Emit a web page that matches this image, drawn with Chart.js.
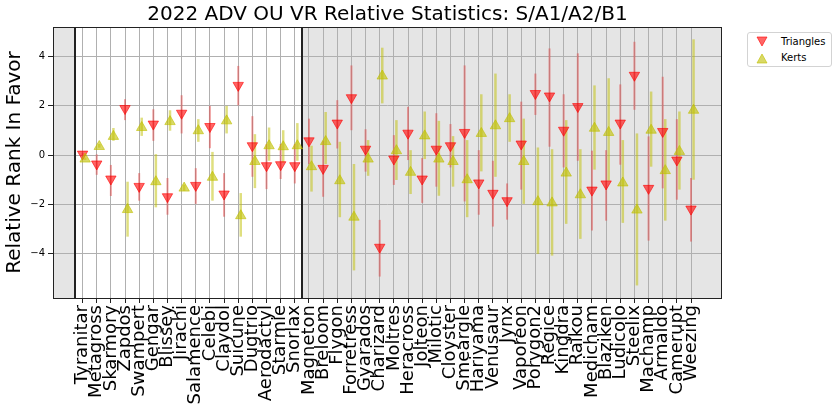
<!DOCTYPE html>
<html>
<head>
<meta charset="utf-8">
<script src="https://cdn.jsdelivr.net/npm/chart.js@4"></script>
<style>
    body { margin: 0; background: #fff; }
    #wrap { position: relative; width: 836px; height: 413px; }
    #legend {
        position: absolute; left: 747px; top: 32px; width: 83px; height: 33px;
        border: 1px solid #d3d3d3; border-radius: 3px; background: #fff;
        font: 10px 'DejaVu Sans', sans-serif; color: #000;
    }
    #legend .item { position: absolute; left: 0; height: 14px; line-height: 14px; }
    #legend svg { position: absolute; left: 7px; top: 0; }
    #legend span { position: absolute; left: 33px; top: 0; white-space: nowrap; }
</style>
</head>
<body>
<div id="wrap">
    <canvas id="chart1" width="836" height="413"></canvas>
    <div id="legend">
        <div class="item" style="top:2px">
            <svg width="14" height="14"><polygon points="2,2 12,2 7,11" fill="rgba(255,0,0,0.6)" stroke="rgba(255,0,0,0.6)"/></svg>
            <span>Triangles</span>
        </div>
        <div class="item" style="top:18px">
            <svg width="14" height="14"><polygon points="2,12 12,12 7,3" fill="rgba(191,191,0,0.6)" stroke="rgba(191,191,0,0.6)"/></svg>
            <span>Kerts</span>
        </div>
    </div>
</div>
<script>
// categories
var names = ['Tyranitar', 'Metagross', 'Skarmory', 'Zapdos', 'Swampert', 'Gengar', 'Blissey', 'Jirachi',
    'Salamence', 'Celebi', 'Claydol', 'Suicune', 'Dugtrio', 'Aerodactyl', 'Starmie', 'Snorlax',
    'Magneton', 'Breloom', 'Flygon', 'Forretress', 'Gyarados', 'Charizard', 'Moltres', 'Heracross',
    'Jolteon', 'Milotic', 'Cloyster', 'Smeargle', 'Hariyama', 'Venusaur', 'Jynx', 'Vaporeon',
    'Porygon2', 'Regice', 'Kingdra', 'Raikou', 'Medicham', 'Blaziken', 'Ludicolo', 'Steelix',
    'Machamp', 'Armaldo', 'Camerupt', 'Weezing'];

// Triangles series (value, lower, upper)
var triVals = [0.04, -0.36, -0.97, 1.89, -1.27, 1.26, -1.69, 1.7, -1.23, 1.16, -1.58, 2.83, 0.38, -0.43, -0.39, -0.43,
    0.58, -0.54, 1.3, 2.33, 0.24, -3.74, -0.16, 0.89, -0.97, 0.24, 0.38, 0.92, -1.13, -1.55, -1.85,
    0.45, 2.5, 2.4, 1.01, 1.97, -1.42, -1.17, 1.3, 3.24, -1.35, 0.96, -0.2, -2.19];
var triLow = [-0.03, -0.8, -1.66, 1.42, -1.85, 0.58, -2.42, 0.88, -1.98, 0.28, -2.5, 2.02, -0.88, -1.38, -0.97, -1.15,
    -0.36, -1.69, 0.27, 1.01, -0.67, -4.93, -1.21, -0.2, -1.94, -1.28, -0.5, -1.88, -2.42, -2.9, -2.62,
    -1.4, 1.63, 0.34, -0.5, -0.23, -3.06, -2.66, -0.39, 1.84, -3.47, -1.35, -1.81, -3.51];
var triHigh = [0.1, 0.03, -0.4, 2.27, -0.73, 1.86, -0.93, 2.43, -0.53, 2.0, -0.73, 3.62, 1.58, 0.45, 0.45, 0.45,
    1.48, 0.58, 2.23, 3.64, 1.05, -2.63, 0.81, 1.96, -0.12, 1.7, 1.26, 3.64, 0.2, -0.23, -1.15,
    2.17, 3.31, 4.33, 2.47, 4.13, 0.18, 0.2, 2.87, 4.6, 0.76, 3.18, 1.46, -0.93];

// Kerts series (value, lower, upper)
var kertVals = [-0.16, 0.35, 0.76, -2.21, 1.12, -1.08, 1.36, -1.34, 0.99, -0.9, 1.39, -2.46, -0.26, 0.38, 0.34, 0.38,
    -0.47, 0.55, -1.04, -2.52, -0.16, 3.21, 0.18, -0.7, 0.78, -0.16, -0.26, -1.0, 0.88, 1.19, 1.48,
    -0.26, -1.89, -1.94, -0.73, -1.61, 1.09, 0.92, -1.13, -2.23, 1.01, -0.63, 0.15, 1.82];
var kertLow = [-0.2, 0.3, 0.58, -3.31, 0.78, -2.12, 0.99, -1.45, 0.54, -1.85, 0.88, -3.31, -1.34, -0.23, -0.3, -0.23,
    -1.48, -0.36, -2.52, -4.68, -0.84, 2.1, -1.01, -1.58, -0.16, -1.65, -1.28, -2.52, -0.66, -0.88, 0.54,
    -1.98, -4.01, -4.08, -2.79, -3.4, -0.59, -1.04, -2.75, -5.29, -0.47, -2.66, -1.4, -1.0];
var kertHigh = [-0.1, 0.45, 1.1, -1.08, 1.52, 0.04, 1.82, -1.2, 1.46, 0.13, 2.0, -1.54, 0.85, 1.12, 1.01, 1.3,
    0.38, 1.75, 0.54, -0.36, 0.61, 4.36, 1.42, 0.2, 1.77, 1.39, 0.77, 0.61, 2.47, 3.31, 2.47,
    1.48, 0.31, 0.24, 1.42, 0.24, 2.83, 3.12, 0.61, 0.88, 2.58, 1.46, 1.77, 4.7];

var yTicks = [-4, -2, 0, 2, 4];
var tierBreaks = [-0.5, 15.5];   // S tier boundary lines
var kertShift = 0.18;

var redFill = 'rgba(255, 0, 0, 0.6)';
var yelFill = 'rgba(191, 191, 0, 0.6)';
var redBar = 'rgba(225, 70, 70, 0.5)';
var yelBar = 'rgba(191, 191, 0, 0.5)';

Chart.defaults.font.family = "'DejaVu Sans', sans-serif";
Chart.defaults.color = '#000';

// backgrounds, tier lines, error bars and frame
var decor = {
    id: 'decor',
    beforeDraw: function (chart) {
        var ctx = chart.ctx, a = chart.chartArea, x = chart.scales.x;
        ctx.save();
        ctx.fillStyle = '#e5e5e5';
        ctx.fillRect(a.left, a.top, a.width, a.height);
        var x0 = x.getPixelForValue(tierBreaks[0]);
        var x1 = x.getPixelForValue(tierBreaks[1]);
        ctx.fillStyle = '#fff';
        ctx.fillRect(x0, a.top, x1 - x0, a.height);
        ctx.restore();
    },
    beforeDatasetsDraw: function (chart) {
        var ctx = chart.ctx, a = chart.chartArea, x = chart.scales.x, y = chart.scales.y;
        ctx.save();
        ctx.strokeStyle = '#222';
        ctx.lineWidth = 2;
        tierBreaks.forEach(function (b) {
            var px = Math.round(x.getPixelForValue(b));
            ctx.beginPath();
            ctx.moveTo(px, a.top);
            ctx.lineTo(px, a.bottom);
            ctx.stroke();
        });
        function bars(low, high, shift, color, w) {
            ctx.strokeStyle = color;
            ctx.lineWidth = w;
            for (var i = 0; i < names.length; i++) {
                var px = x.getPixelForValue(i + shift);
                ctx.beginPath();
                ctx.moveTo(px, y.getPixelForValue(low[i]));
                ctx.lineTo(px, y.getPixelForValue(high[i]));
                ctx.stroke();
            }
        }
        bars(triLow, triHigh, 0, redBar, 2);
        bars(kertLow, kertHigh, kertShift, yelBar, 2.5);
        ctx.restore();
    },
    afterDraw: function (chart) {
        var ctx = chart.ctx, a = chart.chartArea;
        ctx.save();
        ctx.strokeStyle = '#222';
        ctx.lineWidth = 1;
        ctx.strokeRect(Math.round(a.left) + 0.5, Math.round(a.top) + 0.5, Math.round(a.width) - 1, Math.round(a.height));
        ctx.restore();
    }
};

var ctx1 = document.getElementById('chart1').getContext('2d');
var chart1 = new Chart(ctx1, {
    type: 'scatter',
    data: {
        datasets: [{
            label: 'Triangles',
            data: triVals.map(function (v, i) { return { x: i, y: v }; }),
            pointStyle: 'triangle',
            rotation: 180,
            radius: 6,
            backgroundColor: redFill,
            borderColor: redFill,
            borderWidth: 1,
            order: 2
        }, {
            label: 'Kerts',
            data: kertVals.map(function (v, i) { return { x: i + kertShift, y: v }; }),
            pointStyle: 'triangle',
            radius: 6,
            backgroundColor: yelFill,
            borderColor: yelFill,
            borderWidth: 1,
            order: 1
        }]
    },
    options: {
        responsive: false,
        animation: false,
        layout: { padding: { left: 0, right: 114, top: 0, bottom: 0 } },
        plugins: {
            legend: { display: false },
            tooltip: { enabled: false },
            title: {
                display: true,
                fullSize: false,
                text: '2022 ADV OU VR Relative Statistics: S/A1/A2/B1',
                font: { size: 20, weight: 'normal' },
                color: '#000',
                padding: { top: 3, bottom: 0 }
            }
        },
        scales: {
            x: {
                type: 'linear',
                min: -2.09,
                max: 45.19,
                afterFit: function (s) { s.height = 115; },
                afterBuildTicks: function (s) {
                    s.ticks = names.map(function (n, i) { return { value: i }; });
                },
                grid: { color: '#b0b0b0', tickColor: '#222', tickLength: 5 },
                border: { display: false },
                ticks: {
                    autoSkip: false,
                    minRotation: 90,
                    maxRotation: 90,
                    padding: 2,
                    font: { size: 18 },
                    callback: function (v) { return names[v]; }
                }
            },
            y: {
                min: -5.8,
                max: 5.2,
                afterFit: function (s) { s.width = 53; },
                afterBuildTicks: function (s) {
                    s.ticks = yTicks.map(function (v) { return { value: v }; });
                },
                grid: { color: '#b0b0b0', tickColor: '#222', tickLength: 5 },
                border: { display: false },
                ticks: {
                    padding: 3,
                    font: { size: 10 },
                    callback: function (v) { return v < 0 ? '\u2212' + Math.abs(v) : String(v); }
                },
                title: {
                    display: true,
                    text: 'Relative Rank In Favor',
                    font: { size: 20 },
                    color: '#000',
                    padding: { top: 3, bottom: 0 }
                }
            }
        }
    },
    plugins: [decor]
});
</script>
</body>
</html>
